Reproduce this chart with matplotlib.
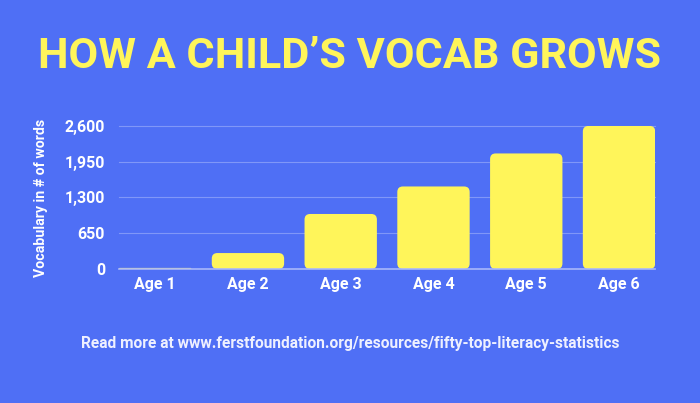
import matplotlib.pyplot as plt
from matplotlib.patches import FancyBboxPatch

# chart data
ages = ["Age 1", "Age 2", "Age 3", "Age 4", "Age 5", "Age 6"]
words = [20, 290, 1000, 1500, 2100, 2600]
yticks = [0, 650, 1300, 1950, 2600]
ytick_labels = ["0", "650", "1,300", "1,950", "2,600"]

bg = "#4f6ff5"
yellow = "#fff55a"
grid = "#8097f8"

fig = plt.figure(figsize=(7, 4.03), dpi=100, facecolor=bg)
ax = fig.add_axes([0.17, 0.3325, 0.766, 0.355], facecolor=bg)

bars = ax.bar(range(len(ages)), words, width=0.78, color=yellow, zorder=3)

ax.set_xlim(-0.39, len(ages) - 0.61)
ax.set_ylim(0, 2600)

# swap the plain bars for ones with slightly rounded corners
fig.canvas.draw()
bb = ax.get_window_extent()
xpx = (ax.get_xlim()[1] - ax.get_xlim()[0]) / bb.width
ypx = (ax.get_ylim()[1] - ax.get_ylim()[0]) / bb.height
for b in bars:
    r = min(0.06, b.get_height() / (ypx / xpx) / 2)
    p = FancyBboxPatch((b.get_x(), b.get_y()), b.get_width(), b.get_height(),
                       boxstyle=f"round,pad=0,rounding_size={r}",
                       mutation_aspect=ypx / xpx, color=yellow, zorder=3, lw=0)
    ax.add_patch(p)
    b.set_visible(False)

ax.set_yticks(yticks)
ax.set_yticklabels(ytick_labels)
ax.set_xticks(range(len(ages)))
ax.set_xticklabels(ages)

for s in ax.spines.values():
    s.set_visible(False)
ax.tick_params(length=0, colors="white", labelsize=11.5, pad=10)
ax.tick_params(axis="x", pad=6)
for lab in ax.get_xticklabels() + ax.get_yticklabels():
    lab.set_fontfamily("Roboto")
    lab.set_fontweight("bold")

ax.axhline(0, color="#a9b8fa", linewidth=1.2, zorder=4, clip_on=False)
for y in yticks[1:]:
    ax.axhline(y, color=grid, linewidth=0.8, zorder=0, clip_on=False)

ax.set_ylabel("Vocabulary in # of words", color="white", fontsize=10.2,
              fontfamily="Roboto", fontweight="bold", labelpad=12)

title = fig.text(0.5, 0.859, "HOW A CHILD\u2019S VOCAB GROWS", ha="center", va="center",
                 color=yellow, fontsize=30, fontfamily="Roboto", fontweight="bold")
# fit the title to the width it takes in the reference (~622 px)
renderer = fig.canvas.get_renderer()
w = title.get_window_extent(renderer).width
title.set_fontsize(30 * 622 / w)

fig.text(0.5, 0.148, "Read more at www.ferstfoundation.org/resources/fifty-top-literacy-statistics",
         ha="center", va="center", color="#eef0ff", fontsize=11.2,
         fontfamily="Roboto", fontweight="bold")

fig.savefig("out.png", dpi=100, facecolor=bg)
